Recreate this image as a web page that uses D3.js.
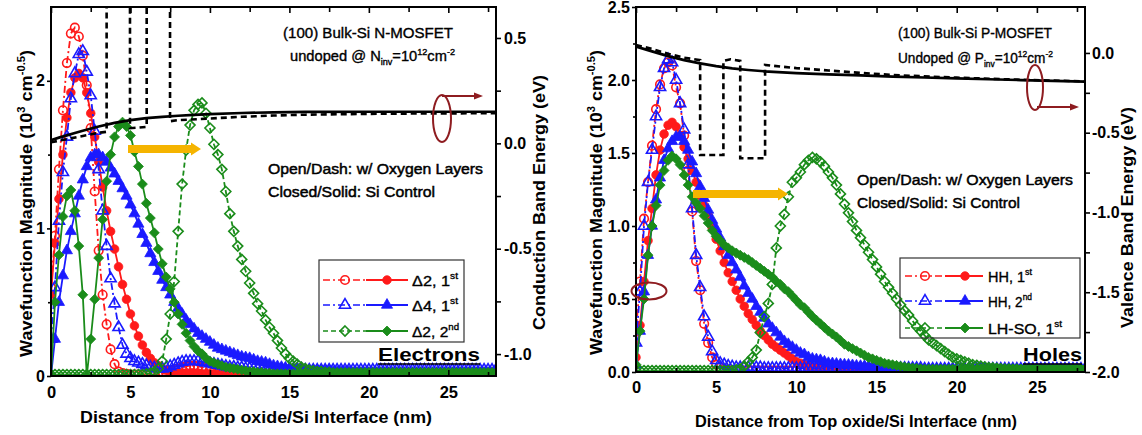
<!DOCTYPE html>
<html>
<head>
<meta charset="utf-8">
<script src="https://cdn.jsdelivr.net/npm/d3@7"></script>
<style>
  html, body { margin: 0; padding: 0; background: #fff; }
  svg { display: block; }
</style>
</head>
<body>
<svg id="fig" width="1142" height="435"></svg>
<script>
// Depth grid of the Schrodinger-Poisson solution (nm from the top oxide/Si interface)
const depthNm = d3.range(0, 28.0001, 0.25);

// ---- Electrons: envelope magnitude (1e3 cm^-0.5), one value per grid point ----
const elecD2FirstO2 = [
  0.60,0.95,1.40,1.80,2.12,2.32,2.36,2.30,
  2.17,1.97,1.68,1.25,0.85,0.55,0.35,0.18,
  0.08,0.03,0.02,0.015,0.01,0.01,0.01,0.01,
  0.01,0.01,0.01,0.01,0.015,0.02,0.03,0.04,
  0.05,0.06,0.065,0.07,0.07,0.065,0.06,0.05,
  0.04,0.03,0.02,0.015,0.01,0.01,0.01,0.01,
  0.01,0.01,0.01,0.01,0.01,0.01,0.01,0.01,
  0.01,0.01,0.01,0.01,0.01,0.01,0.01,0.01,
  0.01,0.01,0.01,0.01,0.01,0.01,0.01,0.01,
  0.01,0.01,0.01,0.01,0.01,0.01,0.01,0.01,
  0.01,0.01,0.01,0.01,0.01,0.01,0.01,0.01,
  0.01,0.01,0.01,0.01,0.01,0.01,0.01,0.01,
  0.01,0.01,0.01,0.01,0.01,0.01,0.01,0.01,
  0.01,0.01,0.01,0.01,0.01,0.01,0.01,0.01,
  0.01];
const elecD2FirstSi = [
  0.55,0.90,1.20,1.50,1.75,1.92,2.02,2.05,
  2.02,1.92,1.78,1.62,1.45,1.28,1.12,0.98,
  0.86,0.74,0.62,0.52,0.42,0.34,0.27,0.21,
  0.16,0.12,0.09,0.07,0.05,0.04,0.03,0.025,
  0.02,0.02,0.02,0.02,0.02,0.02,0.015,0.015,
  0.015,0.015,0.01,0.01,0.01,0.01,0.01,0.01,
  0.01,0.01,0.01,0.01,0.01,0.01,0.01,0.01,
  0.01,0.01,0.01,0.01,0.01,0.01,0.01,0.01,
  0.01,0.01,0.01,0.01,0.01,0.01,0.01,0.01,
  0.01,0.01,0.01,0.01,0.01,0.01,0.01,0.01,
  0.01,0.01,0.01,0.01,0.01,0.01,0.01,0.01,
  0.01,0.01,0.01,0.01,0.01,0.01,0.01,0.01,
  0.01,0.01,0.01,0.01,0.01,0.01,0.01,0.01,
  0.01,0.01,0.01,0.01,0.01,0.01,0.01,0.01,
  0.01];
const elecD4FirstO2 = [
  0.25,0.60,1.05,1.38,1.62,1.88,2.05,2.18,
  2.20,2.06,1.90,1.66,1.40,1.12,0.88,0.66,
  0.49,0.33,0.21,0.15,0.12,0.10,0.09,0.08,
  0.07,0.06,0.055,0.05,0.05,0.055,0.065,0.075,
  0.085,0.095,0.10,0.10,0.10,0.10,0.095,0.09,
  0.085,0.08,0.075,0.07,0.065,0.06,0.06,0.055,
  0.055,0.05,0.05,0.05,0.05,0.045,0.045,0.045,
  0.045,0.045,0.045,0.045,0.045,0.045,0.045,0.045,
  0.04,0.04,0.04,0.04,0.04,0.04,0.04,0.04,
  0.04,0.04,0.04,0.04,0.04,0.04,0.04,0.04,
  0.04,0.04,0.04,0.04,0.04,0.04,0.04,0.04,
  0.04,0.04,0.04,0.04,0.04,0.04,0.04,0.04,
  0.04,0.04,0.04,0.04,0.04,0.04,0.04,0.04,
  0.04,0.04,0.04,0.04,0.04,0.04,0.04,0.04,
  0.04];
const elecD4FirstSi = [
  0.00,0.25,0.50,0.68,0.85,0.98,1.10,1.22,
  1.33,1.42,1.48,1.50,1.50,1.48,1.45,1.41,
  1.37,1.32,1.27,1.22,1.16,1.10,1.03,0.96,
  0.90,0.83,0.77,0.71,0.65,0.60,0.55,0.50,
  0.46,0.42,0.38,0.35,0.32,0.29,0.27,0.25,
  0.23,0.21,0.19,0.18,0.17,0.16,0.15,0.14,
  0.13,0.125,0.12,0.11,0.10,0.095,0.09,0.08,
  0.07,0.065,0.06,0.055,0.05,0.045,0.045,0.04,
  0.04,0.035,0.035,0.03,0.03,0.03,0.03,0.025,
  0.025,0.025,0.025,0.025,0.02,0.02,0.02,0.02,
  0.02,0.02,0.02,0.02,0.02,0.02,0.02,0.02,
  0.02,0.02,0.02,0.02,0.02,0.02,0.02,0.02,
  0.02,0.02,0.02,0.02,0.02,0.02,0.02,0.02,
  0.02,0.02,0.02,0.02,0.02,0.02,0.02,0.02,
  0.02];
const elecD2SecondO2 = [
  0.01,0.01,0.01,0.01,0.01,0.01,0.01,0.01,
  0.01,0.01,0.01,0.01,0.01,0.01,0.01,0.01,
  0.01,0.01,0.01,0.01,0.01,0.01,0.01,0.01,
  0.015,0.02,0.03,0.05,0.10,0.25,0.42,0.64,
  0.98,1.30,1.53,1.70,1.80,1.84,1.85,1.78,
  1.68,1.57,1.50,1.40,1.25,1.10,0.98,0.88,
  0.79,0.71,0.63,0.56,0.49,0.44,0.38,0.33,
  0.29,0.24,0.19,0.15,0.12,0.10,0.08,0.06,
  0.05,0.04,0.035,0.03,0.03,0.025,0.025,0.02,
  0.02,0.02,0.02,0.02,0.02,0.02,0.02,0.02,
  0.02,0.02,0.02,0.02,0.02,0.02,0.02,0.02,
  0.02,0.02,0.02,0.02,0.02,0.02,0.02,0.02,
  0.02,0.02,0.02,0.02,0.02,0.02,0.02,0.02,
  0.02,0.02,0.02,0.02,0.02,0.02,0.02,0.02,
  0.02];
const elecD2SecondSi = [
  0.00,0.50,0.82,1.08,1.22,1.26,1.12,0.88,
  0.55,0.00,0.25,0.52,0.80,1.06,1.32,1.50,
  1.62,1.69,1.72,1.69,1.63,1.52,1.42,1.30,
  1.17,1.07,0.97,0.86,0.76,0.67,0.59,0.50,
  0.42,0.35,0.29,0.24,0.20,0.17,0.15,0.12,
  0.10,0.09,0.08,0.07,0.06,0.055,0.05,0.045,
  0.04,0.035,0.03,0.03,0.025,0.025,0.02,0.02,
  0.015,0.015,0.015,0.015,0.015,0.015,0.015,0.015,
  0.015,0.015,0.015,0.015,0.015,0.015,0.015,0.015,
  0.015,0.015,0.015,0.015,0.015,0.015,0.015,0.015,
  0.015,0.015,0.015,0.015,0.015,0.015,0.015,0.015,
  0.015,0.015,0.015,0.015,0.015,0.015,0.015,0.015,
  0.015,0.015,0.015,0.015,0.015,0.015,0.015,0.015,
  0.015,0.015,0.015,0.015,0.015,0.015,0.015,0.015,
  0.015];

// ---- Holes ----
const holeHH1O2 = [
  0.28,0.62,1.05,1.30,1.55,1.80,1.97,2.08,
  2.12,2.10,1.95,1.84,1.62,1.38,1.10,0.76,
  0.56,0.33,0.20,0.10,0.05,0.03,0.02,0.015,
  0.01,0.01,0.01,0.01,0.01,0.01,0.01,0.01,
  0.01,0.01,0.01,0.01,0.01,0.01,0.01,0.01,
  0.01,0.01,0.01,0.01,0.01,0.01,0.01,0.01,
  0.01,0.01,0.01,0.01,0.01,0.01,0.01,0.01,
  0.01,0.01,0.01,0.01,0.01,0.01,0.01,0.01,
  0.01,0.01,0.01,0.01,0.01,0.01,0.01,0.01,
  0.01,0.01,0.01,0.01,0.01,0.01,0.01,0.01,
  0.01,0.01,0.01,0.01,0.01,0.01,0.01,0.01,
  0.01,0.01,0.01,0.01,0.01,0.01,0.01,0.01,
  0.01,0.01,0.01,0.01,0.01,0.01,0.01,0.01,
  0.01,0.01,0.01,0.01,0.01,0.01,0.01,0.01,
  0.01];
const holeHH1Si = [
  0.10,0.32,0.62,0.90,1.12,1.35,1.52,1.63,
  1.69,1.71,1.68,1.62,1.54,1.46,1.38,1.30,
  1.21,1.14,1.07,0.99,0.91,0.83,0.75,0.68,
  0.62,0.56,0.50,0.45,0.40,0.36,0.32,0.28,
  0.25,0.22,0.19,0.17,0.15,0.13,0.11,0.09,
  0.07,0.06,0.05,0.04,0.03,0.03,0.025,0.02,
  0.02,0.02,0.015,0.015,0.01,0.01,0.01,0.01,
  0.01,0.01,0.01,0.01,0.01,0.01,0.01,0.01,
  0.01,0.01,0.01,0.01,0.01,0.01,0.01,0.01,
  0.01,0.01,0.01,0.01,0.01,0.01,0.01,0.01,
  0.01,0.01,0.01,0.01,0.01,0.01,0.01,0.01,
  0.01,0.01,0.01,0.01,0.01,0.01,0.01,0.01,
  0.01,0.01,0.01,0.01,0.01,0.01,0.01,0.01,
  0.01,0.01,0.01,0.01,0.01,0.01,0.01,0.01,
  0.01];
const holeHH2O2 = [
  0.20,0.55,1.00,1.30,1.52,1.75,1.95,2.08,
  2.14,2.12,2.00,1.84,1.66,1.42,1.12,0.80,
  0.58,0.38,0.24,0.14,0.08,0.06,0.05,0.04,
  0.035,0.03,0.03,0.03,0.03,0.03,0.03,0.03,
  0.025,0.025,0.025,0.025,0.025,0.025,0.025,0.025,
  0.025,0.025,0.025,0.025,0.025,0.025,0.025,0.025,
  0.025,0.025,0.025,0.025,0.025,0.025,0.025,0.025,
  0.025,0.025,0.025,0.025,0.025,0.025,0.025,0.025,
  0.025,0.025,0.025,0.025,0.025,0.025,0.025,0.025,
  0.02,0.02,0.02,0.02,0.02,0.02,0.02,0.02,
  0.02,0.02,0.02,0.02,0.02,0.02,0.02,0.02,
  0.02,0.02,0.02,0.02,0.02,0.02,0.02,0.02,
  0.02,0.02,0.02,0.02,0.02,0.02,0.02,0.02,
  0.02,0.02,0.02,0.02,0.02,0.02,0.02,0.02,
  0.02];
const holeHH2Si = [
  0.05,0.28,0.55,0.80,1.00,1.18,1.33,1.45,
  1.53,1.58,1.61,1.61,1.58,1.52,1.44,1.36,
  1.27,1.19,1.11,1.04,0.98,0.92,0.86,0.80,
  0.75,0.70,0.65,0.59,0.54,0.50,0.45,0.41,
  0.37,0.33,0.30,0.27,0.24,0.21,0.19,0.17,
  0.15,0.13,0.12,0.10,0.09,0.085,0.08,0.07,
  0.06,0.058,0.055,0.052,0.05,0.048,0.045,0.042,
  0.04,0.04,0.038,0.036,0.035,0.034,0.032,0.031,
  0.03,0.028,0.025,0.022,0.02,0.02,0.02,0.02,
  0.015,0.015,0.015,0.015,0.015,0.015,0.015,0.015,
  0.015,0.015,0.015,0.015,0.015,0.015,0.015,0.015,
  0.015,0.015,0.015,0.015,0.015,0.015,0.015,0.015,
  0.015,0.015,0.015,0.015,0.015,0.015,0.015,0.015,
  0.015,0.015,0.015,0.015,0.015,0.015,0.015,0.015,
  0.015];
const holeLHSOO2 = [
  0.01,0.01,0.01,0.01,0.01,0.01,0.01,0.01,
  0.01,0.01,0.01,0.01,0.01,0.01,0.01,0.01,
  0.01,0.01,0.01,0.01,0.01,0.01,0.01,0.01,
  0.01,0.015,0.02,0.04,0.07,0.10,0.15,0.27,
  0.38,0.47,0.60,0.85,1.00,1.08,1.20,1.30,
  1.33,1.37,1.42,1.45,1.47,1.46,1.44,1.41,
  1.37,1.33,1.28,1.22,1.15,1.09,1.03,0.97,
  0.92,0.87,0.82,0.77,0.72,0.67,0.62,0.58,
  0.54,0.50,0.46,0.42,0.39,0.35,0.31,0.28,
  0.25,0.22,0.20,0.18,0.16,0.14,0.12,0.10,
  0.09,0.08,0.07,0.06,0.05,0.045,0.04,0.035,
  0.03,0.028,0.025,0.022,0.02,0.02,0.018,0.018,
  0.015,0.015,0.015,0.015,0.015,0.015,0.015,0.015,
  0.015,0.015,0.015,0.015,0.015,0.015,0.015,0.015,
  0.015];
const holeLHSOSi = [
  0.05,0.28,0.50,0.80,1.00,1.14,1.28,1.38,
  1.45,1.48,1.46,1.42,1.35,1.28,1.20,1.16,
  1.12,1.07,1.02,0.97,0.93,0.90,0.87,0.85,
  0.83,0.815,0.80,0.785,0.77,0.75,0.73,0.71,
  0.69,0.67,0.65,0.62,0.60,0.57,0.55,0.52,
  0.49,0.46,0.44,0.41,0.38,0.355,0.33,0.305,
  0.28,0.26,0.24,0.215,0.19,0.175,0.16,0.145,
  0.13,0.115,0.10,0.09,0.08,0.07,0.06,0.055,
  0.05,0.045,0.04,0.035,0.03,0.028,0.025,0.022,
  0.02,0.02,0.02,0.02,0.02,0.02,0.02,0.02,
  0.02,0.02,0.02,0.02,0.02,0.02,0.02,0.02,
  0.02,0.02,0.02,0.02,0.02,0.02,0.02,0.02,
  0.02,0.02,0.02,0.02,0.02,0.02,0.02,0.02,
  0.02,0.02,0.02,0.02,0.02,0.02,0.02,0.02,
  0.02];

// ---- Band edges (eV); oxygen layers show up as barriers ----
// (conduction-band barriers rise above the plotted energy window)
const cbDepth   = [0,0.5,1,1.5,2,3,4,5,6,7,8,9,10,12,14,16,20,28];
const cbSi      = [0.015,0.027,0.038,0.049,0.06,0.08,0.097,0.11,0.12,0.126,0.131,0.135,0.139,0.144,0.147,0.149,0.15,0.15];
const cbO2Depth = [0,1,2,3,3.5,3.5,4.97,4.97,5.5,6.02,6.02,7.49,7.49,8,10,12,14,16,20,24,28];
const cbO2      = [0.005,0.02,0.035,0.05,0.055,0.8,0.8,0.072,0.075,0.078,0.8,0.8,0.105,0.11,0.118,0.126,0.132,0.136,0.14,0.142,0.143];

const vbDepth   = [0,1,2,3,4,5,6,7,8,10,12,14,16,18,20,22,24,26,28];
const vbSi      = [0.04,0.01,-0.02,-0.045,-0.065,-0.083,-0.097,-0.107,-0.115,-0.126,-0.134,-0.141,-0.148,-0.154,-0.16,-0.165,-0.17,-0.175,-0.18];
const vbO2Depth = [0,1,2,3,4,4,5.45,5.45,5.9,6.5,6.5,8.05,8.05,9,10,12,14,16,20,24,28];
const vbO2      = [0.05,0.025,-0.005,-0.03,-0.045,-0.64,-0.64,-0.05,-0.04,-0.05,-0.66,-0.66,-0.075,-0.085,-0.095,-0.11,-0.125,-0.138,-0.155,-0.168,-0.178];

// ---- Ticks and legend labels ----
const xMajorTicks = [0,5,10,15,20,25];
const xMinorTicks = [2.5,7.5,12.5,17.5,22.5,27.5];
const elecWfTicks = [0,1,2];
const elecWfMinor = [0.5,1.5];
const elecETicks  = [-1.0,-0.5,0.0,0.5];
const elecEMinor  = [-0.75,-0.25,0.25];
const holeWfTicks = [0,0.5,1.0,1.5,2.0,2.5];
const holeWfMinor = [0.25,0.75,1.25,1.75,2.25];
const holeETicks  = [-2.0,-1.5,-1.0,-0.5,0.0];
const holeEMinor  = [-1.75,-1.25,-0.75,-0.25];
const elecStates = ["\u03942, 1", "\u03944, 1", "\u03942, 2"];
const elecOrd    = ["st", "st", "nd"];
const holeStates = ["HH, 1", "HH, 2", "LH-SO, 1"];
const holeOrd    = ["st", "nd", "st"];

// ---------------------------------------------------------------
const FONT = '"Liberation Sans", Arial, Helvetica, sans-serif';
const RED = "#ff1a1a", BLUE = "#1a1aff", GREEN = "#1a8c1a", DARKRED = "#8e1c20", GOLD = "#f5b400";
const svg = d3.select("#fig");

const diamondType = {
  draw(ctx, size) {
    const r = Math.sqrt(size / 2);
    ctx.moveTo(0, -r); ctx.lineTo(r, 0); ctx.lineTo(0, r); ctx.lineTo(-r, 0); ctx.closePath();
  }
};
const glyph = {
  circle:   d3.symbol(d3.symbolCircle, 58)(),
  triangle: d3.symbol(d3.symbolTriangle, 54)(),
  diamond:  d3.symbol(diamondType, 50)()
};
const DASH_OPEN = "7,3,2,3", DASH_GREEN = "5,3";

function styledSeries(vals) {
  const looks = [
    {color: RED,   shape: "circle",   open: true,  dash: DASH_OPEN},
    {color: RED,   shape: "circle",   open: false, dash: null},
    {color: BLUE,  shape: "triangle", open: true,  dash: DASH_OPEN},
    {color: BLUE,  shape: "triangle", open: false, dash: null},
    {color: GREEN, shape: "diamond",  open: true,  dash: DASH_GREEN},
    {color: GREEN, shape: "diamond",  open: false, dash: null}
  ];
  return vals.map((v, i) => Object.assign({v}, looks[i]));
}

// Text with optional super/subscript runs: parts = [[text, "sup"|"sub"|""], ...]
function rich(parent, parts, o) {
  const t = parent.append("text")
    .attr("font-family", FONT).attr("font-size", o.size)
    .attr("font-weight", o.weight || "normal").attr("fill", "#000");
  if (o.heavy) t.attr("stroke", "#000").attr("stroke-width", o.heavy);
  if (o.rotate) t.attr("transform", `translate(${o.x},${o.y}) rotate(-90)`);
  else t.attr("x", o.x).attr("y", o.y);
  let shift = 0;
  parts.forEach(([txt, mode]) => {
    const target = mode === "sup" ? -0.42 * o.size : mode === "sub" ? 0.3 * o.size : 0;
    const ts = t.append("tspan").attr("dy", target - shift).text(txt);
    if (mode) ts.attr("font-size", o.size * 0.62);
    shift = target;
  });
  if (o.len) t.attr("textLength", o.len).attr("lengthAdjust", "spacingAndGlyphs");
  return t;
}

function marker(parent, s, cx, cy) {
  parent.append("path")
    .attr("transform", `translate(${cx},${cy})`)
    .attr("d", glyph[s.shape])
    .attr("fill", s.open ? "none" : s.color)
    .attr("stroke", s.color)
    .attr("stroke-width", s.open ? 1.6 : 0.8);
}

function drawPanel(p) {
  const x = d3.scaleLinear().domain([0, 28]).range([p.left, p.right]);
  const y = d3.scaleLinear().domain([0, 2.5]).range([p.bottom, p.top]);
  const e = d3.scaleLinear().domain(p.eDomain).range([p.bottom, p.top]);
  const g = svg.append("g");

  svg.append("clipPath").attr("id", p.id + "-clip")
    .append("rect").attr("x", p.left).attr("y", p.top)
    .attr("width", p.right - p.left).attr("height", p.bottom - p.top);
  const plot = g.append("g").attr("clip-path", `url(#${p.id}-clip)`);

  // envelope functions
  const wfLine = d3.line().x(d => x(d[0])).y(d => y(d[1]));
  p.series.forEach(s => {
    const pts = s.v.map((v, i) => [depthNm[i], v]);
    plot.append("path").attr("d", wfLine(pts))
      .attr("fill", "none").attr("stroke", s.color).attr("stroke-width", 1.8)
      .attr("stroke-dasharray", s.dash);
    plot.append("g").selectAll("path").data(pts).join("path")
      .attr("transform", d => `translate(${x(d[0])},${y(d[1])})`)
      .attr("d", glyph[s.shape])
      .attr("fill", s.open ? "none" : s.color)
      .attr("stroke", s.color)
      .attr("stroke-width", s.open ? 1.6 : 0.8);
  });

  // band edges on the right-hand energy axis
  const bandLine = d3.line().x(d => x(d[0])).y(d => e(d[1]));
  plot.append("path").attr("d", bandLine(d3.zip(p.bandX, p.bandSi)))
    .attr("fill", "none").attr("stroke", "#000").attr("stroke-width", 2.7);
  plot.append("path").attr("d", bandLine(d3.zip(p.bandO2X, p.bandO2)))
    .attr("fill", "none").attr("stroke", "#000").attr("stroke-width", 2.6)
    .attr("stroke-dasharray", "6,4");

  // axes
  function axis(gen, tx, ty, size) {
    const a = g.append("g").attr("transform", `translate(${tx},${ty})`).call(gen);
    a.select(".domain").remove();
    a.selectAll("line").attr("stroke", "#000").attr("stroke-width", 1.6);
    a.selectAll("text").attr("font-family", FONT).attr("font-weight", "bold")
      .attr("font-size", size).attr("fill", "#000");
    return a;
  }
  const fmtE = d => d3.format(".1f")(d).replace("\u2212", "-");
  axis(d3.axisBottom(x).tickValues(xMajorTicks).tickSize(-6).tickPadding(p.xPad).tickFormat(d3.format("d")), 0, p.bottom, 16.5);
  axis(d3.axisBottom(x).tickValues(xMinorTicks).tickSize(-4).tickFormat(""), 0, p.bottom, 16);
  axis(d3.axisTop(x).tickValues(xMajorTicks).tickSize(-6).tickFormat(""), 0, p.top, 16);
  axis(d3.axisTop(x).tickValues(xMinorTicks).tickSize(-5).tickFormat(""), 0, p.top, 16);
  axis(d3.axisLeft(y).tickValues(p.wfTicks).tickSize(4).tickPadding(2).tickFormat(p.wfFmt), p.left, 0, 16);
  axis(d3.axisLeft(y).tickValues(p.wfMinor).tickSize(3).tickFormat(""), p.left, 0, 16);
  axis(d3.axisRight(e).tickValues(p.eTicks).tickSize(5).tickPadding(p.ePad).tickFormat(fmtE), p.right, 0, 16);
  axis(d3.axisRight(e).tickValues(p.eMinor).tickSize(5).tickFormat(""), p.right, 0, 16);

  g.append("rect").attr("x", p.left).attr("y", p.top)
    .attr("width", p.right - p.left).attr("height", p.bottom - p.top)
    .attr("fill", "none").attr("stroke", "#000").attr("stroke-width", 2);

  // axis titles
  rich(g, [["Distance from Top oxide/Si Interface (nm)", ""]],
    {x: p.xTitle[0], y: p.xTitle[1], size: 17, weight: "bold", len: p.xTitle[2]});
  rich(g, [["Wavefunction Magnitude (10", ""], ["3", "sup"], [" cm", ""], ["-0.5", "sup"], [")", ""]],
    {x: p.yTitle[0], y: p.yTitle[1], size: 16.5, weight: "bold", len: p.yTitle[2], rotate: true});
  rich(g, [[p.eTitle, ""]],
    {x: p.eTitleAt[0], y: p.eTitleAt[1], size: 16.5, weight: "bold", len: p.eTitleAt[2], rotate: true});

  // device description
  rich(g, [["(100) Bulk-Si " + p.device, ""]], {x: p.dev[0], y: p.dev[1], size: 14, len: p.dev[2], heavy: 0.35});
  rich(g, [[p.dopWord + " @ " + p.carrier, ""], ["inv", "sub"], ["=10", ""], ["12", "sup"], ["cm", ""], ["-2", "sup"]],
    {x: p.dop[0], y: p.dop[1], size: 14, len: p.dop[2], heavy: 0.35});
  rich(g, [["Open/Dash: w/ Oxygen Layers", ""]], {x: p.note1[0], y: p.note1[1], size: 15.5, len: p.note1[2], heavy: 0.5});
  rich(g, [["Closed/Solid: Si Control", ""]], {x: p.note2[0], y: p.note2[1], size: 15.5, len: p.note2[2], heavy: 0.5});

  // carrier type tag
  rich(g, [[p.tag, ""]], {x: p.tagAt[0], y: p.tagAt[1], size: 19, weight: "bold", len: p.tagAt[2]});
  g.append("line").attr("x1", p.tagAt[0]).attr("x2", p.tagAt[0] + p.tagAt[2])
    .attr("y1", p.tagAt[1] + 3).attr("y2", p.tagAt[1] + 3)
    .attr("stroke", "#000").attr("stroke-width", 1.6);

  // shift arrow
  const [ax0, ax1, ay] = p.shift;
  const ap = d3.path();
  ap.moveTo(ax0, ay - 4); ap.lineTo(ax1 - 10, ay - 4); ap.lineTo(ax1 - 10, ay - 6.5);
  ap.lineTo(ax1, ay); ap.lineTo(ax1 - 10, ay + 6.5); ap.lineTo(ax1 - 10, ay + 4);
  ap.lineTo(ax0, ay + 4); ap.closePath();
  g.append("path").attr("d", ap.toString()).attr("fill", GOLD);

  // ellipse call-outs
  p.ovals.forEach(o => {
    g.append("ellipse").attr("cx", o.cx).attr("cy", o.cy).attr("rx", o.rx).attr("ry", o.ry)
      .attr("fill", "none").attr("stroke", DARKRED).attr("stroke-width", 2);
    if (o.arrow) {
      const [x0, x1, yy] = o.arrow;
      g.append("line").attr("x1", x0).attr("x2", x1 - 7).attr("y1", yy).attr("y2", yy)
        .attr("stroke", DARKRED).attr("stroke-width", 1.8);
      const hp = d3.path();
      hp.moveTo(x1, yy); hp.lineTo(x1 - 9, yy - 3.5); hp.lineTo(x1 - 9, yy + 3.5); hp.closePath();
      g.append("path").attr("d", hp.toString()).attr("fill", DARKRED);
    }
  });

  // legend
  const L = p.legend;
  g.append("rect").attr("x", L.box[0]).attr("y", L.box[1])
    .attr("width", L.box[2] - L.box[0]).attr("height", L.box[3] - L.box[1])
    .attr("fill", "none").attr("stroke", "#333").attr("stroke-width", 1.2);
  p.states.forEach((name, k) => {
    const ry = L.rows[k];
    const so = p.series[2 * k], sc = p.series[2 * k + 1];
    const mid = (L.openX + L.closedX) / 2;
    g.append("line").attr("x1", L.x0).attr("x2", mid).attr("y1", ry).attr("y2", ry)
      .attr("stroke", so.color).attr("stroke-width", 1.7).attr("stroke-dasharray", so.dash);
    g.append("line").attr("x1", mid).attr("x2", L.x1).attr("y1", ry).attr("y2", ry)
      .attr("stroke", sc.color).attr("stroke-width", 1.8);
    marker(g, so, L.openX, ry);
    marker(g, sc, L.closedX, ry);
    rich(g, [[name, ""], [p.ords[k], "sup"]], {x: L.textX, y: ry + 5.5, size: 15, len: L.textLen[k], heavy: 0.35});
  });
}

drawPanel({
  id: "elec", left: 51, right: 496, top: 7, bottom: 376,
  eDomain: [-1.104, 0.647],
  series: styledSeries([elecD2FirstO2, elecD2FirstSi, elecD4FirstO2, elecD4FirstSi, elecD2SecondO2, elecD2SecondSi]),
  bandX: cbDepth, bandSi: cbSi, bandO2X: cbO2Depth, bandO2: cbO2,
  wfTicks: elecWfTicks, wfMinor: elecWfMinor, wfFmt: d3.format("d"),
  eTicks: elecETicks, eMinor: elecEMinor, xPad: 10, ePad: 3,
  xTitle: [80, 423, 352], yTitle: [32, 357, 307],
  eTitle: "Conduction Band Energy (eV)", eTitleAt: [545, 330, 255],
  device: "N-MOSFET", dopWord: "undoped", carrier: "N",
  dev: [283, 38, 170], dop: [290, 61, 165],
  note1: [268, 174, 215], note2: [268, 197, 167],
  tag: "Electrons", tagAt: [378, 361, 102],
  shift: [128, 201, 149],
  ovals: [{cx: 442, cy: 118.5, rx: 9, ry: 23.5, arrow: [442, 483, 96]}],
  states: elecStates, ords: elecOrd,
  legend: {box: [319, 260, 464, 342], rows: [280, 305, 331], x0: 323, x1: 408,
           openX: 345, closedX: 387, textX: 412, textLen: [46, 46, 47]}
});

drawPanel({
  id: "hole", left: 636, right: 1085, top: 7, bottom: 372,
  eDomain: [-2.0, 0.288],
  series: styledSeries([holeHH1O2, holeHH1Si, holeHH2O2, holeHH2Si, holeLHSOO2, holeLHSOSi]),
  bandX: vbDepth, bandSi: vbSi, bandO2X: vbO2Depth, bandO2: vbO2,
  wfTicks: holeWfTicks, wfMinor: holeWfMinor, wfFmt: d3.format(".1f"),
  eTicks: holeETicks, eMinor: holeEMinor, xPad: 9, ePad: 2,
  xTitle: [695, 427, 322], yTitle: [602, 355, 305],
  eTitle: "Valence Band Energy (eV)", eTitleAt: [1133, 328, 221],
  device: "P-MOSFET", dopWord: "Undoped", carrier: "P",
  dev: [898, 38, 154], dop: [898, 63, 155],
  note1: [857, 185, 216], note2: [857, 208, 163],
  tag: "Holes", tagAt: [1023, 361, 59],
  shift: [693, 788, 194],
  ovals: [{cx: 1035, cy: 87.5, rx: 8, ry: 22.5, arrow: [1037, 1079, 107]},
          {cx: 649, cy: 291, rx: 17.5, ry: 8.5}],
  states: holeStates, ords: holeOrd,
  legend: {box: [900, 258, 1080, 338], rows: [276, 301, 328], x0: 905, x1: 983,
           openX: 925, closedX: 965, textX: 988, textLen: [44, 44, 74]}
});
</script>
</body>
</html>
